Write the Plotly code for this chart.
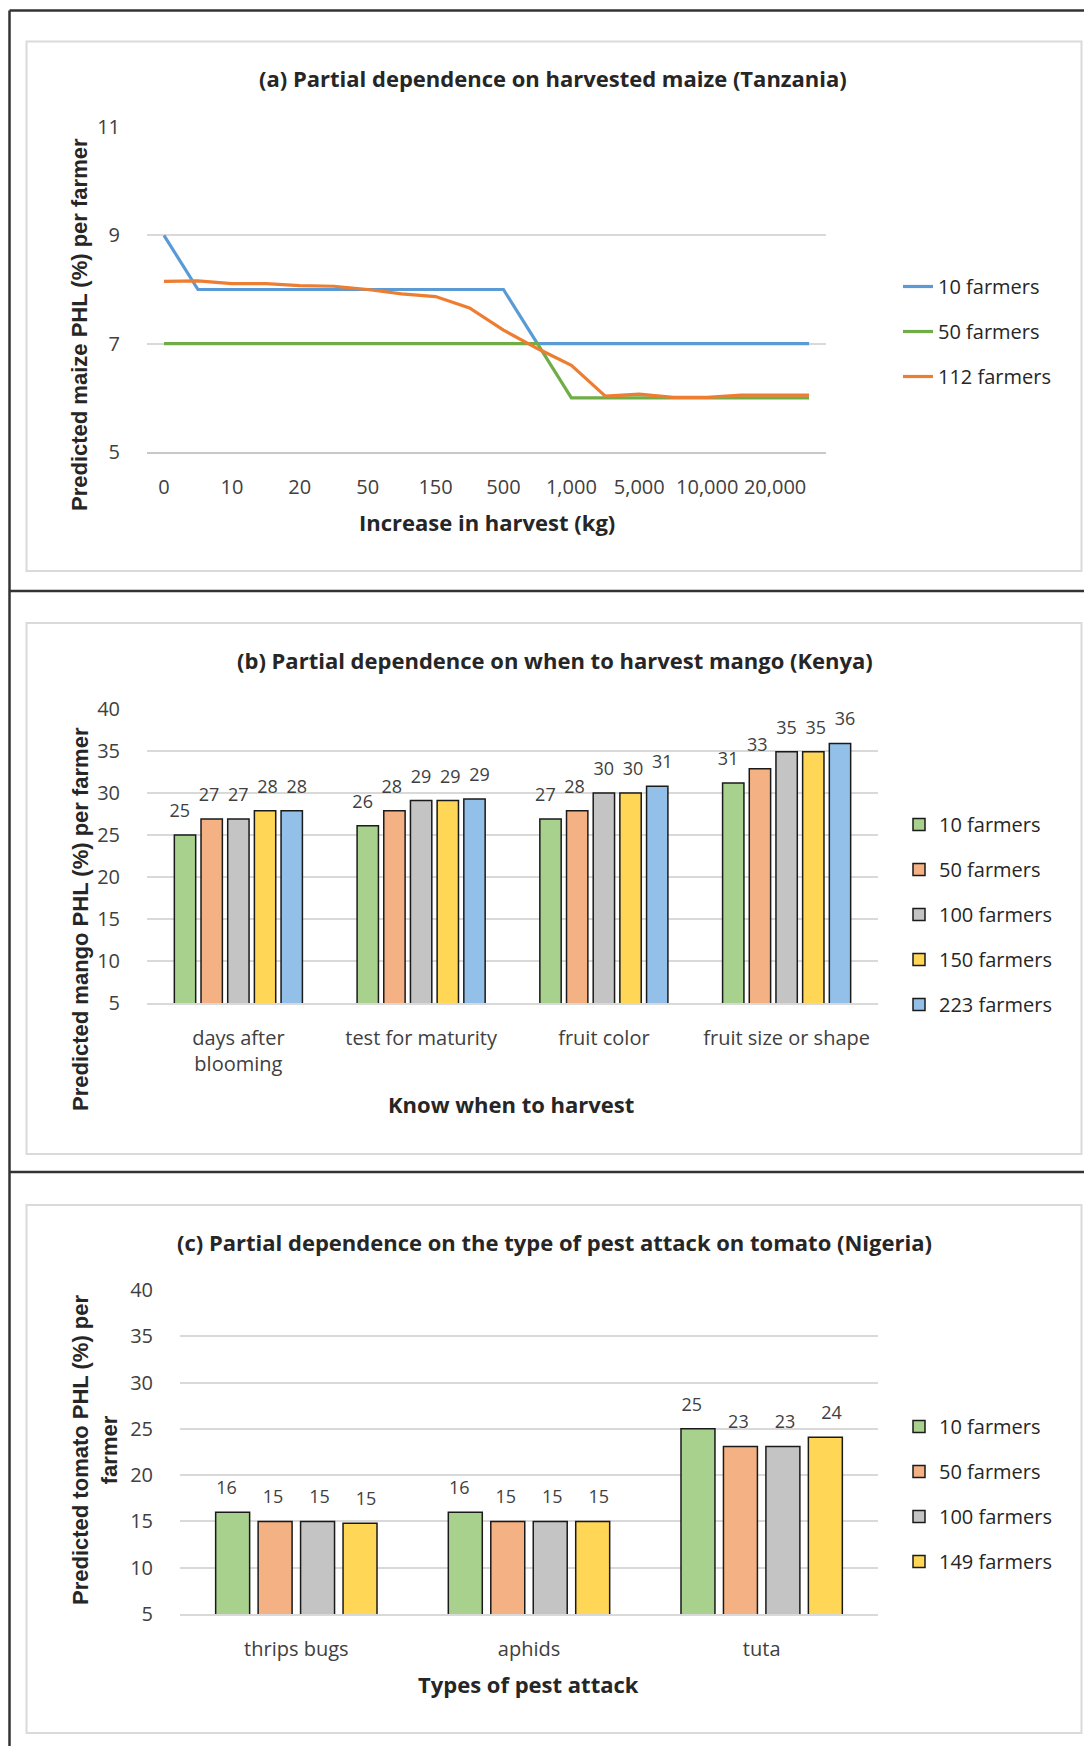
import plotly.graph_objects as go

W, H = 1084, 1746

# ---------------- data ----------------
# (a) line chart: 20 points, every second point labelled on the axis
harvest_labels = ["0", "10", "20", "50", "150", "500", "1,000", "5,000", "10,000", "20,000"]
maize_10 = [9, 8, 8, 8, 8, 8, 8, 8, 8, 8, 8, 7, 7, 7, 7, 7, 7, 7, 7, 7]
maize_50 = [7, 7, 7, 7, 7, 7, 7, 7, 7, 7, 7, 7, 6, 6, 6, 6, 6, 6, 6, 6]
maize_112 = [8.15, 8.16, 8.11, 8.11, 8.07, 8.06, 8.0, 7.92, 7.87, 7.66,
             7.25, 6.91, 6.6, 6.03, 6.07, 6.01, 6.01, 6.05, 6.05, 6.05]
maize_names = ["10 farmers", "50 farmers", "112 farmers"]

# (b) mango bars
mango_cats = ["days after<br>blooming", "test for maturity", "fruit color", "fruit size or shape"]
mango_names = ["10 farmers", "50 farmers", "100 farmers", "150 farmers", "223 farmers"]
mango_vals = [
    [25.0, 26.1, 26.9, 31.2],
    [26.9, 27.9, 27.9, 32.9],
    [26.9, 29.1, 30.0, 34.9],
    [27.9, 29.1, 30.0, 34.9],
    [27.9, 29.3, 30.8, 35.9],
]

# (c) tomato bars
tomato_cats = ["thrips bugs", "aphids", "tuta"]
tomato_names = ["10 farmers", "50 farmers", "100 farmers", "149 farmers"]
tomato_vals = [
    [16.0, 16.0, 25.0],
    [15.0, 15.0, 23.1],
    [15.0, 15.0, 23.1],
    [14.8, 15.0, 24.1],
]

line_colors = ["#5B9BD5", "#70AD47", "#ED7D31"]
bar_colors = ["#A9D18E", "#F4B183", "#C4C4C4", "#FFD656", "#92C0E8"]

FONT = "'Open Sans', Lato, sans-serif"
YFONT = "'Liberation Sans', Arial, sans-serif"
TXT = "#262626"
TICK = "#404040"
GRID = "#D9D9D9"


def px(x):
    return x / W


def py(y):
    return 1 - y / H


fig = go.Figure()

# ---------------- (a) ----------------
xi = list(range(len(maize_10)))
for name, vals, col in zip(maize_names, [maize_10, maize_50, maize_112], line_colors):
    fig.add_trace(go.Scatter(
        x=xi, y=vals, mode="lines", name=name,
        line=dict(color=col, width=3.2),
        xaxis="x", yaxis="y", legend="legend", legendgroup="a" + name,
        offsetgroup="a", hoverinfo="skip"))

# ---------------- (b) ----------------
for i, (name, vals) in enumerate(zip(mango_names, mango_vals)):
    fig.add_trace(go.Bar(
        x=mango_cats, y=vals, name=name,
        marker=dict(color=bar_colors[i], line=dict(color="#1a1a1a", width=1.5)),
        xaxis="x2", yaxis="y2", legend="legend2", legendgroup="b" + name,
        offsetgroup="b%d" % i))
for i, (name, vals) in enumerate(zip(mango_names, mango_vals)):
    fig.add_trace(go.Scatter(
        x=mango_cats, y=vals, mode="markers+text",
        text=["%.0f" % v for v in vals], textposition="top center",
        textfont=dict(family=FONT, size=18, color=TICK),
        marker=dict(size=20, opacity=0),
        xaxis="x2", yaxis="y2", showlegend=False, hoverinfo="skip",
        offsetgroup="b%d" % i, cliponaxis=False))

# ---------------- (c) ----------------
for i, (name, vals) in enumerate(zip(tomato_names, tomato_vals)):
    fig.add_trace(go.Bar(
        x=tomato_cats, y=vals, name=name,
        marker=dict(color=bar_colors[i], line=dict(color="#1a1a1a", width=1.5)),
        xaxis="x3", yaxis="y3", legend="legend3", legendgroup="c" + name,
        offsetgroup="c%d" % i))
for i, (name, vals) in enumerate(zip(tomato_names, tomato_vals)):
    fig.add_trace(go.Scatter(
        x=tomato_cats, y=vals, mode="markers+text",
        text=["%.0f" % v for v in vals], textposition="top center",
        textfont=dict(family=FONT, size=18, color=TICK),
        marker=dict(size=20, opacity=0),
        xaxis="x3", yaxis="y3", showlegend=False, hoverinfo="skip",
        offsetgroup="c%d" % i, cliponaxis=False))

# ---------------- axes ----------------
xr = [-0.5, len(maize_10) - 0.5]
label_pos = xi[::2]
boundaries = [k - 0.5 for k in range(0, len(maize_10) + 1, 2)]

tickfont = dict(family=FONT, size=20, color=TICK)
clear = "rgba(0,0,0,0)"

layout = dict(
    template="none",
    width=W, height=H, autosize=False,
    margin=dict(l=0, r=0, t=0, b=0, pad=0, autoexpand=False),
    paper_bgcolor="white", plot_bgcolor="white",
    barmode="group", bargap=0.27, bargroupgap=0.2,
    scattermode="group",
    font=dict(family=FONT, color=TXT),
    xaxis=dict(domain=[px(147), px(826)], anchor="y", range=xr, automargin=False,
               tickmode="array", tickvals=label_pos, ticktext=harvest_labels,
               ticks="outside", ticklen=16, tickcolor=clear,
               showgrid=False, zeroline=False, showline=True,
               linecolor="#C8C8C8", linewidth=1.5, tickfont=tickfont),
    xaxis4=dict(overlaying="x", anchor="y", range=xr, side="bottom", automargin=False,
                tickmode="array", tickvals=boundaries, ticks="outside",
                ticklen=7, tickwidth=1.5, tickcolor="#C8C8C8",
                showticklabels=False, showgrid=False, zeroline=False, showline=False),
    yaxis=dict(domain=[py(452), py(127)], anchor="x", range=[5, 11], automargin=False,
               tickmode="array", tickvals=[5, 7, 9, 11],
               ticks="outside", ticklen=22, tickcolor=clear,
               showgrid=True, gridcolor=GRID, gridwidth=2, zeroline=False,
               showline=False, tickfont=tickfont),
    xaxis2=dict(domain=[px(147), px(878)], anchor="y2", type="category", automargin=False,
                ticks="outside", ticklen=16, tickcolor=clear,
                showgrid=False, zeroline=False, showline=True,
                linecolor=GRID, linewidth=2, tickfont=tickfont),
    yaxis2=dict(domain=[py(1003), py(709)], anchor="x2", range=[5, 40], dtick=5,
                automargin=False, ticks="outside", ticklen=22, tickcolor=clear,
                showgrid=True, gridcolor=GRID, gridwidth=2, zeroline=False,
                tickfont=tickfont),
    xaxis3=dict(domain=[px(180), px(878)], anchor="y3", type="category", automargin=False,
                ticks="outside", ticklen=16, tickcolor=clear,
                showgrid=False, zeroline=False, showline=True,
                linecolor=GRID, linewidth=2, tickfont=tickfont),
    yaxis3=dict(domain=[py(1614), py(1290)], anchor="x3", range=[5, 40], dtick=5,
                automargin=False, ticks="outside", ticklen=22, tickcolor=clear,
                showgrid=True, gridcolor=GRID, gridwidth=2, zeroline=False,
                tickfont=tickfont),
)

legfont = dict(family=FONT, size=20, color=TXT)
for key, x0, y0 in [("legend", 898, 267), ("legend2", 899, 805), ("legend3", 899, 1407)]:
    layout[key] = dict(x=px(x0), y=py(y0), xanchor="left", yanchor="top",
                       font=legfont, tracegroupgap=16, traceorder="grouped",
                       bgcolor=clear, borderwidth=0)

# ---------------- text ----------------
ann = []


def add_text(text, x, y, size, bold=True, angle=0, family=FONT, color=TXT):
    ann.append(dict(text=("<b>%s</b>" % text) if bold else text,
                    x=px(x), y=py(y), xref="paper", yref="paper",
                    xanchor="center", yanchor="middle", showarrow=False,
                    textangle=angle, font=dict(family=family, size=size, color=color)))


add_text("(a) Partial dependence on harvested maize (Tanzania)", 553, 78, 22)
add_text("(b) Partial dependence on when to harvest mango (Kenya)", 555, 660, 22)
add_text("(c) Partial dependence on the type of pest attack on tomato (Nigeria)", 554, 1242, 22)
add_text("Increase in harvest (kg)", 487, 522, 22)
add_text("Know when to harvest", 511, 1104, 22)
add_text("Types of pest attack", 528, 1684, 22)
add_text("Predicted maize PHL (%) per farmer", 79, 325, 22, angle=-90, family=YFONT)
add_text("Predicted mango PHL (%) per farmer", 80, 919, 22, angle=-90, family=YFONT)
add_text("Predicted tomato PHL (%) per<br>farmer", 95, 1450, 22, angle=-90, family=YFONT)
layout["annotations"] = ann

# ---------------- frames ----------------
shapes = []
dark = dict(color="#333333", width=2.5)
light = dict(color="#DADADA", width=2)


def line(x0, y0, x1, y1, style):
    shapes.append(dict(type="line", xref="paper", yref="paper",
                       x0=px(x0), y0=py(y0), x1=px(x1), y1=py(y1), line=style))


line(9.5, 10.5, 9.5, H, dark)
line(9.5, 10.5, W, 10.5, dark)
line(9.5, 591, W, 591, dark)
line(9.5, 1172, W, 1172, dark)
for (t, b) in [(41.5, 571), (623, 1154), (1205, 1733)]:
    shapes.append(dict(type="rect", xref="paper", yref="paper",
                       x0=px(26.5), y0=py(b), x1=px(1081.5), y1=py(t), line=light))
layout["shapes"] = shapes

fig.update_layout(**layout)

fig.write_html("out.html",
               post_script="document.body.style.margin='0px';",
               config={"displayModeBar": False})
